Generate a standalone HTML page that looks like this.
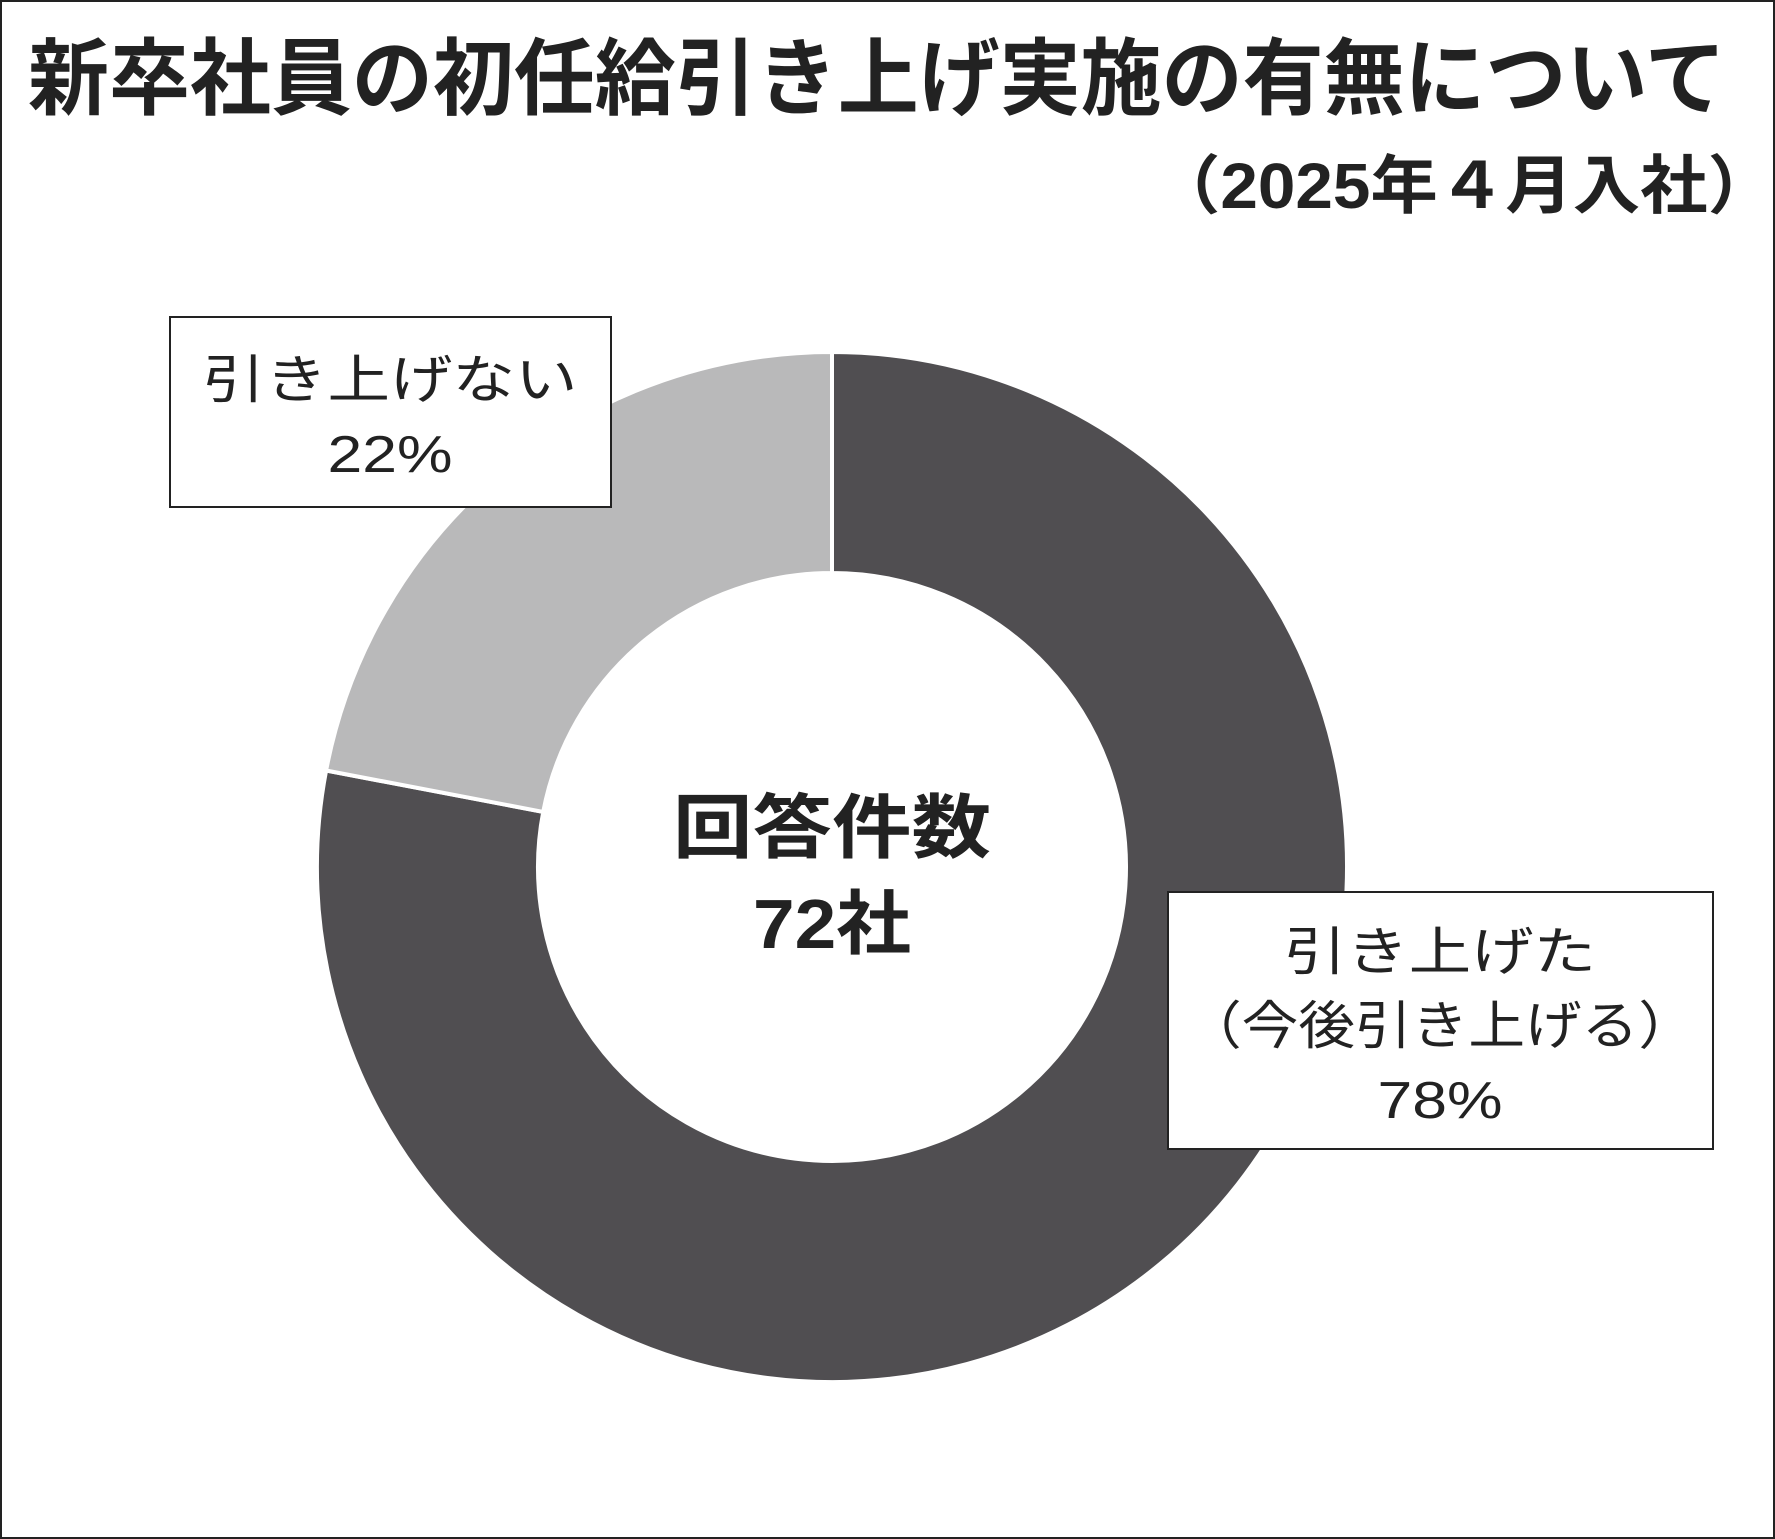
<!DOCTYPE html>
<html><head><meta charset="utf-8"><style>
html,body{margin:0;padding:0;background:#fff}
svg{display:block}
text{font-family:"Liberation Sans","Noto Sans CJK JP",sans-serif}
</style></head><body>
<svg id="chart" width="1775" height="1539" viewBox="0 0 1775 1539" xmlns="http://www.w3.org/2000/svg">
<rect x="1" y="1" width="1773" height="1537" fill="#fff" stroke="#222" stroke-width="2"/>
<text x="28" y="108" font-size="84" font-weight="bold" fill="#222" textLength="1698" lengthAdjust="spacingAndGlyphs">新卒社員の初任給引き上げ実施の有無について</text>
<text x="1775" y="208" font-size="64" font-weight="bold" fill="#222" text-anchor="end" textLength="622" lengthAdjust="spacingAndGlyphs">（2025年４月入社）</text>
<g id="slices"></g>
<text x="832" y="852" font-size="70" font-weight="bold" fill="#222" text-anchor="middle" textLength="318" lengthAdjust="spacingAndGlyphs">回答件数</text>
<text x="832" y="948" font-size="70" font-weight="bold" fill="#222" text-anchor="middle" textLength="158" lengthAdjust="spacingAndGlyphs">72社</text>
<g>
<rect x="170" y="317" width="441" height="190" fill="#fff" stroke="#222" stroke-width="2"/>
<text x="390" y="398" font-size="52" fill="#222" text-anchor="middle" textLength="375" lengthAdjust="spacingAndGlyphs">引き上げない</text>
<text id="pct0" x="390" y="472" font-size="52" fill="#222" text-anchor="middle" textLength="125" lengthAdjust="spacingAndGlyphs">22%</text>
</g>
<g>
<rect x="1168" y="892" width="545" height="257" fill="#fff" stroke="#222" stroke-width="2"/>
<text x="1440" y="970" font-size="52" fill="#222" text-anchor="middle" textLength="312" lengthAdjust="spacingAndGlyphs">引き上げた</text>
<text x="1440" y="1044" font-size="52" fill="#222" text-anchor="middle" textLength="510" lengthAdjust="spacingAndGlyphs">（今後引き上げる）</text>
<text id="pct1" x="1440" y="1118" font-size="52" fill="#222" text-anchor="middle" textLength="125" lengthAdjust="spacingAndGlyphs">78%</text>
</g>
</svg>
<script>
const categories = ["引き上げた（今後引き上げる）", "引き上げない"];
const values = [78, 22];
const colors = ["#504e51", "#b9b9ba"];
const cx = 832, cy = 867, rOuter = 515, rInner = 294;
const total = values.reduce((a, b) => a + b, 0);
function angleScale(v) { return v / total * 2 * Math.PI; }
function pt(r, a) { return [cx + r * Math.sin(a), cy - r * Math.cos(a)]; }
const g = document.getElementById('slices');
let start = 0;
values.forEach((v, i) => {
  const end = start + angleScale(v);
  const large = (end - start) > Math.PI ? 1 : 0;
  const [x1, y1] = pt(rOuter, start), [x2, y2] = pt(rOuter, end);
  const [x3, y3] = pt(rInner, end), [x4, y4] = pt(rInner, start);
  const p = document.createElementNS('http://www.w3.org/2000/svg', 'path');
  p.setAttribute('d', `M${x1},${y1} A${rOuter},${rOuter} 0 ${large} 1 ${x2},${y2} L${x3},${y3} A${rInner},${rInner} 0 ${large} 0 ${x4},${y4} Z`);
  p.setAttribute('fill', colors[i]);
  p.setAttribute('stroke', '#fff');
  p.setAttribute('stroke-width', '4');
  
  
  g.appendChild(p);
  start = end;
});
document.getElementById('pct1').textContent = values[0] + '%';
document.getElementById('pct0').textContent = values[1] + '%';
</script>
</body></html>
